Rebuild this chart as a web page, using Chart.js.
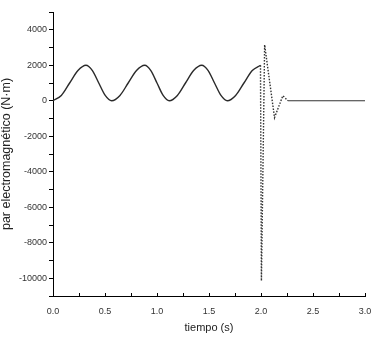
<!DOCTYPE html>
<html>
<head>
<meta charset="utf-8">
<script src="https://cdn.jsdelivr.net/npm/chart.js@4/dist/chart.umd.min.js"></script>
<style>
html,body{margin:0;padding:0;background:#fff;}
#wrap{width:371px;height:340px;position:relative;}
</style>
</head>
<body>
<div id="wrap"><canvas id="c" width="371" height="340"></canvas></div>
<script>
// steady-state oscillation (0 - 2.0 s)
const sineTime   = [0, 0.08, 0.16, 0.24, 0.317, 0.379, 0.44, 0.502, 0.564, 0.644, 0.723, 0.803, 0.882, 0.941, 1.0, 1.059, 1.118, 1.196, 1.274, 1.352, 1.43, 1.492, 1.553, 1.615, 1.676, 1.756, 1.836, 1.916, 1.995];
const sineTorque = [0, 300, 1000, 1700, 2000, 1700, 1000, 300, 0, 300, 1000, 1700, 2000, 1700, 1000, 300, 0, 300, 1000, 1700, 2000, 1700, 1000, 300, 0, 300, 1000, 1700, 2000];
// transient after 2.0 s
const transTime   = [1.995, 2.004, 2.035, 2.13, 2.21, 2.26];
const transTorque = [2000, -10150, 3150, -950, 280, 0];
// settled tail
const tailTime   = [2.26, 3.0];
const tailTorque = [0, 0];
// axis ticks
const xMajorTicks = [0.0, 0.5, 1.0, 1.5, 2.0, 2.5, 3.0];
const yMajorTicks = [-10000, -8000, -6000, -4000, -2000, 0, 2000, 4000];

const pts = (xs, ys) => xs.map((x, i) => ({x: x, y: ys[i]}));

const innerXTicks = {
  id: 'innerXTicks',
  afterDraw(chart) {
    const xs = chart.scales.x, ctx = chart.ctx;
    const yb = chart.chartArea.bottom;
    ctx.save();
    ctx.strokeStyle = '#000';
    ctx.lineWidth = 1;
    xs.ticks.forEach(t => {
      const px = Math.round(xs.getPixelForValue(t.value)) + 0.5;
      ctx.beginPath();
      ctx.moveTo(px, yb);
      ctx.lineTo(px, yb - 3);
      ctx.stroke();
    });
    ctx.restore();
  }
};

new Chart(document.getElementById('c'), {
  type: 'line',
  data: {
    datasets: [
      {data: pts(sineTime, sineTorque), borderColor: '#2a2a2a', borderWidth: 1.4, pointRadius: 0, cubicInterpolationMode: 'monotone', fill: false},
      {data: pts(transTime, transTorque), borderColor: '#333', borderWidth: 1.4, borderDash: [1.5, 1.5], pointRadius: 0, tension: 0, fill: false},
      {data: pts(tailTime, tailTorque), borderColor: '#333', borderWidth: 1.2, pointRadius: 0, tension: 0, fill: false}
    ]
  },
  options: {
    responsive: false,
    animation: false,
    devicePixelRatio: 1,
    layout: {padding: {left: 0, right: 6, top: 12, bottom: 0}},
    plugins: {legend: {display: false}, tooltip: {enabled: false}},
    scales: {
      x: {
        type: 'linear', min: 0, max: 3,
        afterFit: s => { s.height = 44; s.paddingLeft = 0; s.paddingRight = 0; },
        border: {color: '#000', width: 1},
        grid: {drawOnChartArea: false, drawTicks: false},
        ticks: {
          stepSize: 0.25, autoSkip: false, maxRotation: 0, padding: 10,
          color: '#333', font: {family: 'Liberation Sans, Arial', size: 9},
          callback: v => xMajorTicks.some(m => Math.abs(m - v) < 1e-6) ? v.toFixed(1) : ''
        },
        title: {display: true, text: 'tiempo (s)', color: '#222', font: {family: 'Liberation Sans, Arial', size: 11, lineHeight: 1.2}, padding: {top: 0, bottom: 5}}
      },
      y: {
        type: 'linear', min: -11000, max: 5000,
        afterFit: s => { s.width = 53; s.paddingTop = 0; s.paddingBottom = 0; },
        border: {color: '#000', width: 1},
        grid: {drawOnChartArea: false, drawTicks: true, tickLength: 4, color: '#000'},
        ticks: {
          stepSize: 1000, autoSkip: false, padding: 2,
          color: '#333', font: {family: 'Liberation Sans, Arial', size: 9},
          callback: v => yMajorTicks.includes(v) ? String(v) : ''
        },
        title: {display: true, text: 'par electromagnético (N·m)', color: '#222', font: {family: 'Liberation Sans, Arial', size: 12.5, lineHeight: 1.0}, padding: {top: 0, bottom: 0}}
      }
    }
  },
  plugins: [innerXTicks]
});
</script>
</body>
</html>
